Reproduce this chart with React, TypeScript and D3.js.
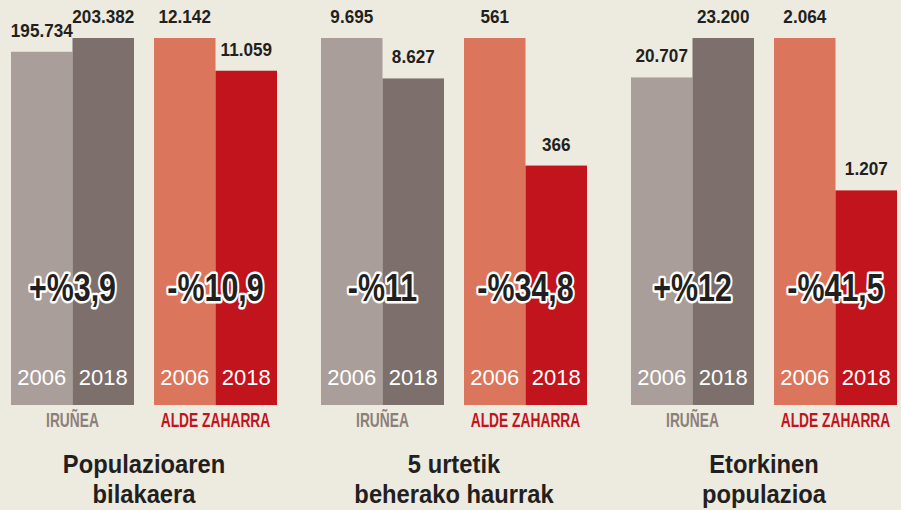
import React from "react";
import * as d3 from "d3";

const panels = ["Populazioaren bilakaera", "5 urtetik beherako haurrak", "Etorkinen populazioa"];
const panelTitleLines = [
  ["Populazioaren", "bilakaera"],
  ["5 urtetik", "beherako haurrak"],
  ["Etorkinen", "populazioa"],
];
const groups = ["IRUÑEA", "ALDE ZAHARRA"];
const years = ["2006", "2018"];
// values[panel] = [2006, 2018]
const iruneaValues = [
  [195734, 203382],
  [9695, 8627],
  [20707, 23200],
];
const aldeZaharraValues = [
  [12142, 11059],
  [561, 366],
  [2064, 1207],
];
const changeLabels = [
  ["+%3,9", "-%10,9"],
  ["-%11", "-%34,8"],
  ["+%12", "-%41,5"],
];

const W = 901;
const H = 510;
const BG = "#EDEADF";
const TEXT = "#231F20";
const barColors = [
  ["#A99E99", "#7D706C"],
  ["#DB755C", "#C2141C"],
];
const groupLabelColors = ["#8B7F7A", "#C2141C"];
const FONT = "'Liberation Sans', Arial, sans-serif";

const locale = d3.formatLocale({ decimal: ",", thousands: ".", grouping: [3], currency: ["", ""] });
const fmt = locale.format(",d");

export default function App() {
  const panelX = d3
    .scaleBand<string>()
    .domain(panels)
    .range([11, 897])
    .paddingInner(44 / 310)
    .paddingOuter(0);
  const groupX = d3
    .scaleBand<string>()
    .domain(groups)
    .range([0, panelX.bandwidth()])
    .paddingInner(20 / 143)
    .paddingOuter(0);
  const yearX = d3.scaleBand<string>().domain(years).range([0, groupX.bandwidth()]).padding(0);
  const bottom = 405;
  const top = 38;

  return (
    <svg width={W} height={H} style={{ display: "block", position: "absolute", left: 0, top: 0 }}>
      <rect x={0} y={0} width={W} height={H} fill={BG} />
      {panels.map((p, pi) => {
        const px = panelX(p)!;
        const groupVals = [iruneaValues[pi], aldeZaharraValues[pi]];
        return (
          <g key={p}>
            {groups.map((g, gi) => {
              const gx = px + groupX(g)!;
              const vals = groupVals[gi];
              const y = d3.scaleLinear().domain([0, d3.max(vals)!]).range([bottom, top]);
              const gcx = gx + groupX.bandwidth() / 2;
              return (
                <g key={g}>
                  {years.map((yr, yi) => {
                    const bx = gx + yearX(yr)!;
                    const bw = yearX.bandwidth();
                    const v = vals[yi];
                    const cx = bx + bw / 2;
                    return (
                      <g key={yr}>
                        <rect x={bx} y={y(v)} width={bw} height={bottom - y(v)} fill={barColors[gi][yi]} />
                        <text
                          transform={`translate(${cx},${y(v) - 15}) scale(0.9,1)`}
                          textAnchor="middle"
                          fontFamily={FONT}
                          fontWeight="bold"
                          fontSize={19}
                          fill={TEXT}
                        >
                          {fmt(v)}
                        </text>
                        <text
                          x={cx}
                          y={385}
                          textAnchor="middle"
                          fontFamily={FONT}
                          fontSize={22}
                          fill="#FFFFFF"
                        >
                          {yr}
                        </text>
                      </g>
                    );
                  })}
                  <text
                    transform={`translate(${gcx},301) scale(0.8,1)`}
                    textAnchor="middle"
                    fontFamily={FONT}
                    fontWeight="bold"
                    fontSize={38}
                    fill={TEXT}
                    stroke="#FFFFFF"
                    strokeWidth={5}
                    strokeLinejoin="round"
                    paintOrder="stroke"
                  >
                    {changeLabels[pi][gi]}
                  </text>
                  <text
                    transform={`translate(${gcx},427) scale(0.69,1)`}
                    textAnchor="middle"
                    fontFamily={FONT}
                    fontWeight="bold"
                    fontSize={20}
                    fill={groupLabelColors[gi]}
                  >
                    {g}
                  </text>
                </g>
              );
            })}
            {panelTitleLines[pi].map((line, li) => (
              <text
                key={li}
                transform={`translate(${px + panelX.bandwidth() / 2},${473 + li * 30}) scale(0.95,1)`}
                textAnchor="middle"
                fontFamily={FONT}
                fontWeight="bold"
                fontSize={25}
                fill={TEXT}
              >
                {line}
              </text>
            ))}
          </g>
        );
      })}
    </svg>
  );
}
